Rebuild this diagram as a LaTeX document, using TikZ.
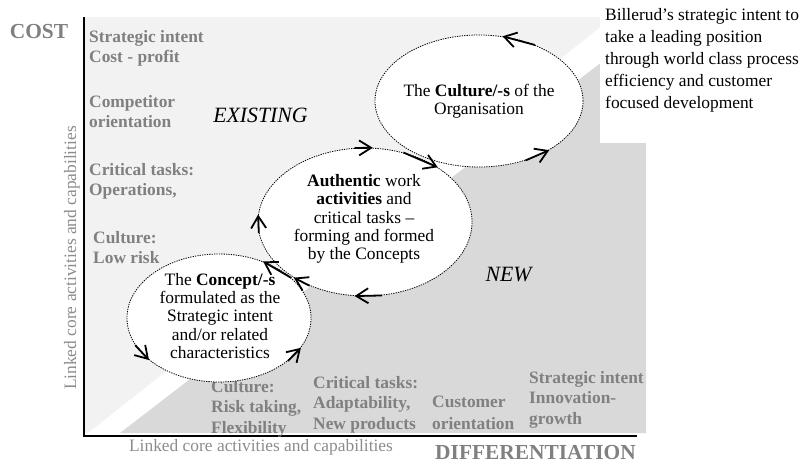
\documentclass[tikz,border=0pt]{standalone}
\usepackage{fontspec}
\setmainfont{Liberation Serif}
\usetikzlibrary{shapes.geometric,arrows.meta}
\definecolor{lightfill}{HTML}{F2F2F2}
\definecolor{darkfill}{HTML}{D9D9D9}
\definecolor{labelgray}{HTML}{808080}
\definecolor{axisgray}{HTML}{8C8C8C}

\begin{document}
\begin{tikzpicture}[x=1pt,y=-1pt,
  loop/.style={ellipse,draw=black,fill=white,line width=0.8pt,dash pattern=on 1.3pt off 1.1pt},
  looptext/.style={align=center,font={\fontsize{17.4}{18.3}\selectfont}},
  flow/.style={line width=1.8pt,-{Straight Barb[length=12pt,width=15pt]}},
  graylabel/.style={anchor=north west,align=left,text=labelgray,font={\fontsize{17.4}{20.5}\selectfont\bfseries}},
  axislabel/.style={text=axisgray,font={\fontsize{17.4}{21}\selectfont}},
  corner/.style={text=labelgray,font={\fontsize{21.4}{24}\selectfont\bfseries}},
  field/.style={font={\fontsize{21.8}{24}\selectfont\itshape}}]
\tikzstyle{every node}+=[inner sep=0pt]
\useasboundingbox (0,0) rectangle (802,464);
\fill[lightfill] (84,17) -- (613,17) -- (88,433) -- (84,433) -- cycle;
\fill[darkfill] (120,433) -- (646,28) -- (646,433) -- cycle;
\fill[white] (600,0) rectangle (802,143);
\draw[line width=2pt] (84,17) -- (84,436) -- (637,436);

\node[corner] (cost) at (39,32) {COST};
\node[corner] (diff) at (535.5,453) {DIFFERENTIATION};
\node[axislabel,rotate=90] (vlab) at (72,258) {Linked core activities and capabilities};
\node[axislabel] (hlab) at (261,447) {Linked core activities and capabilities};
\node[field] (existing) at (260.5,115) {EXISTING};
\node[field] (new) at (508.5,275) {NEW};

\node[graylabel] (costint) at (89,30) {Strategic intent\\Cost - profit};
\node[graylabel] (compet) at (89,95) {Competitor\\orientation};
\node[graylabel] (operat) at (89,163) {Critical tasks:\\Operations,};
\node[graylabel] (lowrisk) at (93,231) {Culture:\\Low risk};
\node[graylabel] (risktake) at (211,380) {Culture:\\Risk taking,\\Flexibility};
\node[graylabel] (adapt) at (313,376) {Critical tasks:\\Adaptability,\\New products};
\node[graylabel,font={\fontsize{17.4}{22}\selectfont\bfseries}] (custom) at (432,396) {Customer\\orientation};
\node[graylabel] (growint) at (529,371) {Strategic intent\\Innovation-\\growth};

\node[anchor=north west,align=left,font={\fontsize{17.4}{22}\selectfont}] (intent) at (605,8) {Billerud’s strategic intent to\\take a leading position\\through world class process\\efficiency and customer\\focused development};

\node[loop,minimum width=184pt,minimum height=128pt] (conc) at (219,318) {};
\node[loop,minimum width=214pt,minimum height=148pt] (auth) at (365,222) {};
\node[loop,minimum width=208pt,minimum height=132pt] (cult) at (479,101) {};

\node[looptext] (conctxt) at (220,316) {The \textbf{Concept/-s}\\formulated as the\\Strategic intent\\and/or related\\characteristics};
\node[looptext] (authtxt) at (364,219) {\textbf{Authentic} work\\\textbf{activities} and\\critical tasks --\\forming and formed\\by the Concepts};
\node[looptext] (culttxt) at (479,101) {The \textbf{Culture/-s} of the\\Organisation};

\draw[flow] (cult.45) -- (cult.70);
\draw[flow] (cult.308) -- (cult.325);
\draw[flow] (auth.61) -- (auth.37);
\draw[flow] (auth.98) -- (auth.84);
\draw[flow] (auth.186) -- (auth.176);
\draw[flow] (auth.283) -- (auth.262);
\draw[flow] (auth.229) -- (auth.218);
\draw[flow] (conc.29) -- (conc.52);
\draw[flow] (conc.198) -- (conc.211);
\draw[flow] (conc.328) -- (conc.340);
\end{tikzpicture}
\end{document}
